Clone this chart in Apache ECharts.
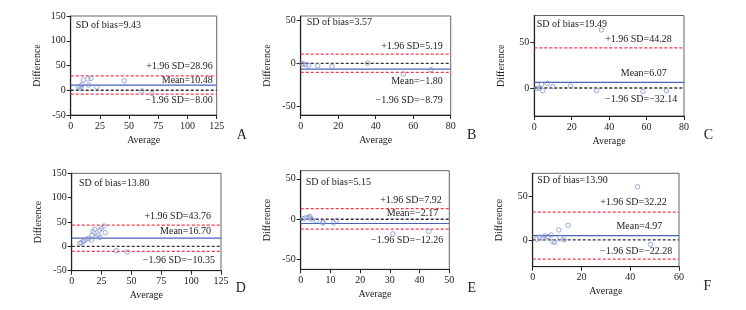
<!DOCTYPE html>
<html>
<head>
<meta charset="utf-8">
<script src="https://cdn.jsdelivr.net/npm/echarts@6/dist/echarts.min.js"></script>
<style>
    html, body { margin: 0; padding: 0; background: #fff; }
    #chart { width: 746px; height: 310px; }
</style>
</head>
<body>
<div id="chart"></div>
<script>
// panel letters and axis ranges
var panelNames = ['A', 'B', 'C', 'D', 'E', 'F'];
var xMax = [125, 80, 80, 125, 50, 60];
var xStep = [25, 20, 20, 25, 10, 20];
var yMin = [-50, -60, -31, -50, -62, -31];
var yMax = [150, 55, 80, 150, 60, 77];
var yTicks = [
    [-50, 0, 50, 100, 150],
    [-50, 0, 50],
    [0, 50],
    [-50, 0, 50, 100, 150],
    [-50, 0, 50],
    [0, 50]
];

// reference lines as drawn: upper limit, mean, lower limit
var upperLine = [28.96, 10.7, 44.28, 43.76, 13.0, 32.22];
var meanLine = [10.48, -6.6, 6.07, 16.70, -5.3, 4.97];
var lowerLine = [-8.00, -10.4, -32.14, -10.35, -12.3, -22.28];

// annotation texts
var sdText = ['SD of bias=9.43', 'SD of bias=3.57', 'SD of bias=19.49', 'SD of bias=13.80', 'SD of bias=5.15', 'SD of bias=13.90'];
var upperText = ['+1.96 SD=28.96', '+1.96 SD=5.19', '+1.96 SD=44.28', '+1.96 SD=43.76', '+1.96 SD=7.92', '+1.96 SD=32.22'];
var meanText = ['Mean=10.48', 'Mean=\u22121.80', 'Mean=6.07', 'Mean=16.70', 'Mean=\u22122.17', 'Mean=4.97'];
var lowerText = ['\u22121.96 SD=\u22128.00', '\u22121.96 SD=\u22128.79', '\u22121.96 SD=\u221232.14', '\u22121.96 SD=\u221210.35', '\u22121.96 SD=\u221212.26', '\u22121.96 SD=\u221222.28'];

// scatter points [average, difference]
var pointsA = [[6.5, 6.8], [8.0, 4.7], [8.8, 8.2], [9.7, 11.7], [10.8, 20.6], [14.6, 22.6], [15.4, 10.3], [17.4, 24.1], [22.3, 6.8], [45.9, 19.1], [61.0, -1.4], [69.6, -6.8]];
var pointsB = [[0.6, -0.3], [1.4, -0.8], [2.8, -1.6], [4.3, -2.3], [9.1, -2.8], [16.7, -3.5], [35.7, 0.3], [54.7, -12.3], [69.5, -7.4]];
var pointsC = [[1.2, -0.5], [2.7, 0], [3.9, 3.7], [4.5, -3.0], [6.9, 5.1], [9.8, 1.5], [19.4, 2.2], [33.3, -3.0], [35.9, 64.1], [58.1, -3.8], [70.6, -3.0]];
var pointsD = [[6.7, 6.2], [8.0, 7.4], [9.5, 9.4], [10.3, 11.5], [12.2, 14.4], [14.2, 16.4], [16.5, 13.0], [17.0, 23.2], [17.8, 30.0], [19.3, 34.9], [20.6, 19.7], [22.0, 23.2], [23.5, 33.5], [23.7, 18.5], [24.8, 37.0], [27.1, 41.7], [28.1, 27.9], [37.4, -9.0], [46.6, -11.7]];
var pointsE = [[0.7, 0.6], [1.5, 1.5], [2.4, 2.2], [3.1, 3.5], [3.1, 1.5], [3.8, -0.2], [5.4, -1.9], [7.4, -4.7], [7.6, -3.5], [11.0, -4.7], [12.1, -1.5], [31.0, -18.3], [43.1, -15.1]];
var pointsF = [[1.6, 0.8], [2.9, 3.1], [4.2, 2.0], [4.9, 4.6], [6.3, 3.8], [7.6, 5.8], [8.3, -2.0], [9.0, -2.7], [10.7, 11.5], [11.1, 3.1], [12.8, 0], [14.5, 17.0], [43.0, 61.5], [48.3, -5.2]];
var allPoints = [pointsA, pointsB, pointsC, pointsD, pointsE, pointsF];

// layout (pixels)
var grids = [
    { left: 70.7, top: 16, width: 146, height: 99 },
    { left: 300.7, top: 16, width: 150, height: 99 },
    { left: 534.3, top: 15.5, width: 149.7, height: 100.5 },
    { left: 71.7, top: 173.3, width: 149.3, height: 97.4 },
    { left: 300.7, top: 170.7, width: 148.6, height: 98.6 },
    { left: 532.7, top: 173.3, width: 146.3, height: 93.4 }
];
var sdPos = [[75.7, 25.7], [306.7, 22.7], [536.7, 24], [79, 183.3], [305.7, 182.3], [537.3, 180]];
var upperPos = [[212.7, 66.7], [442.7, 46.7], [671.7, 39], [211, 216.7], [441.7, 200], [666.7, 202.7]];
var meanPos = [[212.7, 80.7], [442.7, 81.7], [666.7, 73.3], [211, 231.3], [438.3, 213.3], [662.3, 226.7]];
var lowerPos = [[212.7, 100], [442.7, 100.7], [677.3, 99.3], [215, 260], [443.3, 240], [672.3, 251.7]];
var letterPos = [[241.7, 135], [471.7, 135], [708.3, 135], [240.7, 288.3], [471.7, 288.3], [707.3, 286.7]];

var font = 'Liberation Serif';
var textColor = '#222';
var red = '#ec3a4c';

var chart = echarts.init(document.getElementById('chart'));

var gridList = [], xAxes = [], yAxes = [], series = [], graphics = [];

function addText(text, pos, align, size) {
    graphics.push({
        type: 'text', x: pos[0], y: pos[1],
        style: {
            text: text, fill: textColor, font: (size || 10) + 'px "' + font + '"',
            textAlign: align, textVerticalAlign: 'middle'
        }
    });
}

function hLine(i, value, color, type, width) {
    return {
        type: 'line', xAxisIndex: i, yAxisIndex: i, silent: true,
        data: [[0, value], [xMax[i], value]],
        symbol: 'none', clip: true,
        lineStyle: { color: color, type: type, width: width },
        z: 2
    };
}

for (var i = 0; i < 6; i++) {
    var g = grids[i];
    gridList.push({
        left: g.left, top: g.top, width: g.width, height: g.height,
        show: true, borderColor: '#666', borderWidth: 1, backgroundColor: 'transparent'
    });
    xAxes.push({
        gridIndex: i, type: 'value', min: 0, max: xMax[i], interval: xStep[i],
        name: 'Average', nameLocation: 'middle', nameGap: 20,
        nameTextStyle: { fontFamily: font, fontSize: 10, color: textColor },
        axisLine: { onZero: false, lineStyle: { color: '#222', width: 1.2 } },
        axisTick: { length: 4, lineStyle: { color: '#222' } },
        axisLabel: { fontFamily: font, fontSize: 10, color: textColor, margin: 6 },
        splitLine: { show: false }
    });
    yAxes.push({
        gridIndex: i, type: 'value', min: yMin[i], max: yMax[i],
        name: 'Difference', nameLocation: 'middle', nameGap: 28, nameRotate: 90,
        nameTextStyle: { fontFamily: font, fontSize: 10, color: textColor },
        axisLine: { onZero: false, lineStyle: { color: '#222', width: 1.2 } },
        axisTick: { length: 4, customValues: yTicks[i], lineStyle: { color: '#222' } },
        axisLabel: { fontFamily: font, fontSize: 10, color: textColor, margin: 5, customValues: yTicks[i] },
        splitLine: { show: false }
    });
    // lower limit of C sits below the visible range, so it stays hidden there
    if (lowerLine[i] > yMin[i]) {
        series.push(hLine(i, lowerLine[i], red, [3, 2], 1.2));
    }
    series.push(hLine(i, upperLine[i], red, [3, 2], 1.2));
    series.push(hLine(i, 0, '#333', [3, 2], 1.4));
    series.push(hLine(i, meanLine[i], '#4a62c0', 'solid', 1.2));
    series.push({
        type: 'scatter', xAxisIndex: i, yAxisIndex: i,
        data: allPoints[i], symbol: 'circle', symbolSize: 4.5,
        itemStyle: { color: 'rgba(255,255,255,0)', borderColor: '#8493d0', borderWidth: 1 },
        z: 3
    });
    addText(sdText[i], sdPos[i], 'left');
    addText(upperText[i], upperPos[i], 'right');
    addText(meanText[i], meanPos[i], 'right');
    addText(lowerText[i], lowerPos[i], 'right');
    addText(panelNames[i], letterPos[i], 'center', 14);
}

chart.setOption({
    animation: false,
    grid: gridList,
    xAxis: xAxes,
    yAxis: yAxes,
    series: series,
    graphic: graphics
});
</script>
</body>
</html>
